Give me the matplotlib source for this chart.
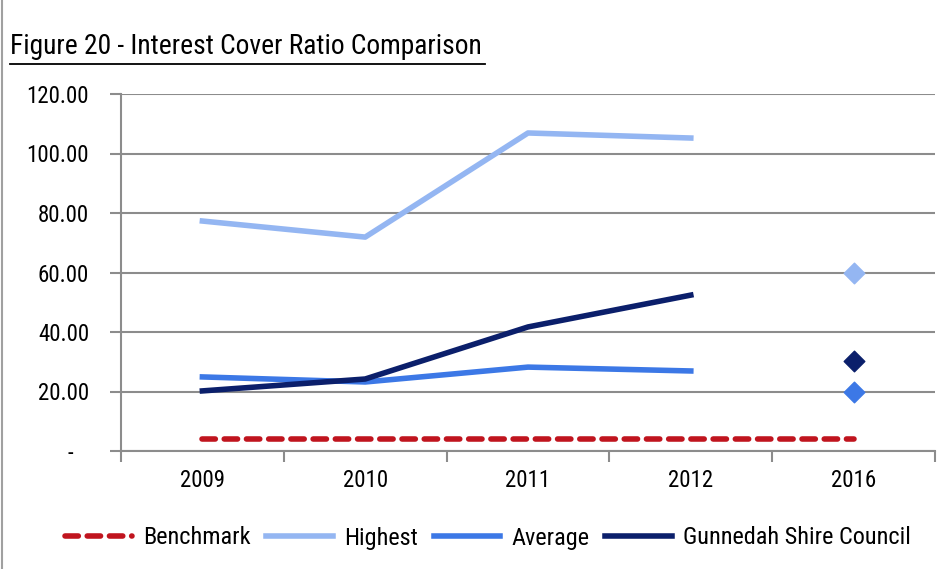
import matplotlib
matplotlib.use("Agg")
import matplotlib.pyplot as plt
from matplotlib.lines import Line2D
import numpy as np

categories = ["2009", "2010", "2011", "2012", "2016"]
benchmark = [4, 4, 4, 4, 4]
highest = [77.3, 71.9, 106.9, 105.2, 59.8]
average = [24.9, 23.2, 28.2, 26.9, 19.8]
gunnedah = [20.2, 24.2, 41.7, 52.4, 30.3]
yticks = [0, 20, 40, 60, 80, 100, 120]
ytick_labels = ["-   ", "20.00", "40.00", "60.00", "80.00", "100.00", "120.00"]

plt.rcParams["font.family"] = ["Roboto Condensed", "DejaVu Sans"]

c_bench = "#C0141E"
c_high = "#94B6F2"
c_avg = "#3C78E6"
c_gun = "#0B1F6B"
c_grid = "#8C8C8C"

fig = plt.figure(figsize=(9.53, 5.69), dpi=100)
ax = fig.add_axes([121/953, 1-451/569, (935-121)/953, (451-94)/569])

x = np.arange(len(categories))
lw = 4
ax.plot(x, benchmark, color=c_bench, lw=lw, ls=(0, (2.4, 1.6)), dash_capstyle="round", label="Benchmark", zorder=3)
ax.plot(x[:4], highest[:4], color=c_high, lw=lw, label="Highest", zorder=3)
ax.plot(x[:4], average[:4], color=c_avg, lw=lw, label="Average", zorder=3)
ax.plot(x[:4], gunnedah[:4], color=c_gun, lw=lw, label="Gunnedah Shire Council", zorder=4)
ax.scatter([x[4]], [highest[4]], marker="D", s=110, color=c_high, zorder=5)
ax.scatter([x[4]], [average[4]], marker="D", s=110, color=c_avg, zorder=5)
ax.scatter([x[4]], [gunnedah[4]], marker="D", s=110, color=c_gun, zorder=5)

ax.set_xlim(-0.5, 4.5)
ax.set_ylim(0, 120)
ax.set_yticks(yticks)
ax.set_yticklabels(ytick_labels, fontsize=16.5)
ax.set_xticks(x)
ax.set_xticklabels(categories, fontsize=16.5)
ax.set_xticks(np.arange(-0.5, 5, 1), minor=True)
ax.tick_params(axis="x", which="major", length=0, pad=13)
ax.tick_params(axis="x", which="minor", length=8, width=1.5, color=c_grid, direction="out")
ax.tick_params(axis="y", length=8, width=1.5, color=c_grid, direction="out", pad=15)
ax.grid(axis="y", color=c_grid, lw=1.5, zorder=0)
ax.set_axisbelow(True)
for s in ["top", "right"]:
    ax.spines[s].set_visible(False)
for s in ["left", "bottom"]:
    ax.spines[s].set_color(c_grid)
    ax.spines[s].set_linewidth(1.5)

handles, labels = ax.get_legend_handles_labels()
leg = fig.legend(handles, labels, loc="center", bbox_to_anchor=(488/953, 1-538/569), ncol=4,
                 frameon=False, fontsize=17.5, handlelength=2.75, handletextpad=0.45, columnspacing=0.65)

fig.text(10/953, 1-46/569, "Figure 20 - Interest Cover Ratio Comparison", fontsize=19.8, va="center", ha="left")
fig.add_artist(Line2D([10/953, 485/953], [1-64/569, 1-64/569], color="black", lw=1.3))
fig.add_artist(Line2D([2/953, 2/953], [0, 1], color="#A0A0A0", lw=1.5))

fig.savefig("out.png", dpi=100)
